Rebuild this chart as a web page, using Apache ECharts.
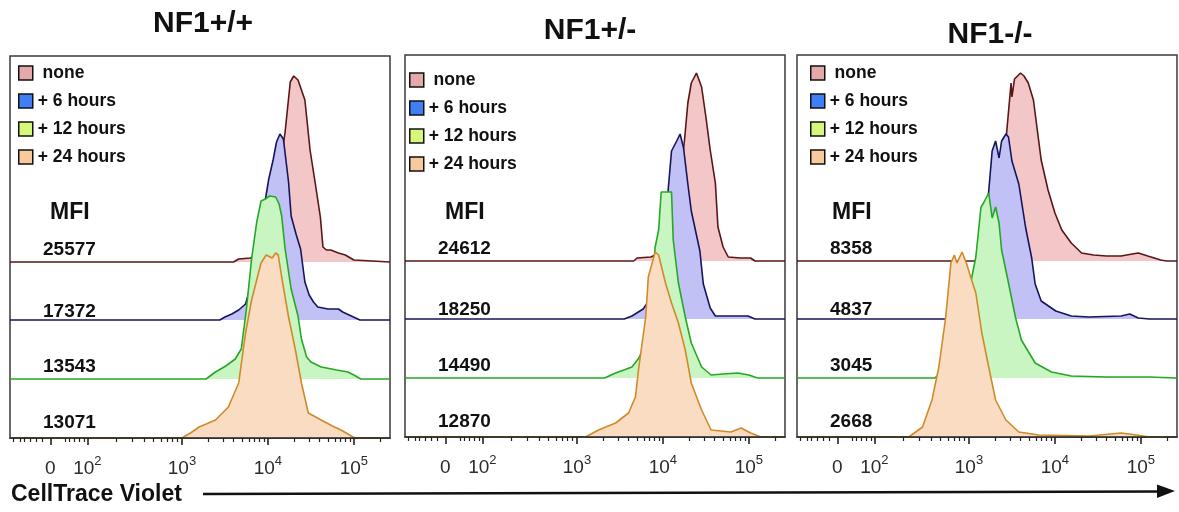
<!DOCTYPE html>
<html><head><meta charset="utf-8">
<script src="https://cdn.jsdelivr.net/npm/echarts@6/dist/echarts.min.js"></script>
<style>html,body{margin:0;padding:0;background:#fff}#c{width:1179px;height:512px}</style>
</head><body><div id="c"></div>
<script>
// ---------- data ----------
const panelTitles = ['NF1+/+', 'NF1+/-', 'NF1-/-'];
const seriesNames = ['none', '+ 6 hours', '+ 12 hours', '+ 24 hours'];
const mfiValues = [
  [25577, 17372, 13543, 13071],
  [24612, 18250, 14490, 12870],
  [8358, 4837, 3045, 2668]
];
const axisTitle = 'CellTrace Violet';
// x axis in display units (biexponential: 10^3 -> 3, 10^4 -> 4, 10^5 -> 5)
const tickValues = [1.47, 1.9, 3, 4, 5];
const tickLabels = ['0', '10^2', '10^3', '10^4', '10^5'];
const minorTickValues = [1.04, 1.12, 1.17, 1.23, 1.30, 1.37, 1.64, 1.69, 1.75, 1.81, 1.86,
  2.231, 2.425, 2.562, 2.669, 2.756, 2.83, 2.893, 2.95,
  3.301, 3.477, 3.602, 3.699, 3.778, 3.845, 3.903, 3.954,
  4.301, 4.477, 4.602, 4.699, 4.778, 4.845, 4.903, 4.954, 5.301];

// histograms: [x (display units), cell count]
const p1None = [[3.60,0],[3.66,3],[3.80,4],[3.90,10],[4.00,30],[4.08,60],[4.14,95],[4.20,130],[4.26,180],[4.30,186],[4.32,187],[4.35,182],[4.43,162],[4.49,112],[4.55,79],[4.61,45],[4.64,15],[4.68,12],[4.73,12],[4.82,9],[4.90,7],[5.00,2],[5.02,0]];
const p1H6 = [[3.44,0],[3.50,3],[3.58,6],[3.66,10],[3.74,16],[3.82,40],[3.90,80],[3.96,115],[4.01,141],[4.06,160],[4.10,178],[4.14,186],[4.18,181],[4.24,138],[4.27,104],[4.33,85],[4.38,71],[4.43,38],[4.48,25],[4.53,18],[4.58,13],[4.70,11],[4.82,11],[4.87,8],[4.97,4],[5.07,0]];
const p1H12 = [[3.28,0],[3.39,7],[3.51,13],[3.62,20],[3.69,30],[3.75,70],[3.81,120],[3.87,157],[3.92,178],[3.97,180],[4.02,183],[4.09,182],[4.13,175],[4.16,163],[4.20,130],[4.27,90],[4.35,63],[4.39,40],[4.45,22],[4.50,17],[4.62,12],[4.80,9],[4.93,7],[5.00,4],[5.08,0]];
const p1H24 = [[3.00,0],[3.10,5],[3.20,11],[3.39,18],[3.54,31],[3.66,55],[3.74,105],[3.81,138],[3.92,175],[3.98,183],[4.05,180],[4.09,185],[4.12,183],[4.16,161],[4.24,121],[4.32,88],[4.39,55],[4.47,25],[4.62,18],[4.75,12],[4.85,8],[5.01,0]];

const p2None = [[3.66,0],[3.70,3],[3.86,4],[3.96,8],[4.04,15],[4.12,35],[4.19,75],[4.25,120],[4.29,158],[4.33,178],[4.39,188],[4.45,174],[4.50,144],[4.55,111],[4.61,78],[4.64,34],[4.70,14],[4.76,4],[4.90,3],[5.02,3],[5.07,0]];
const p2H6 = [[3.55,0],[3.64,3],[3.77,10],[3.85,20],[3.92,45],[3.98,80],[4.06,128],[4.10,168],[4.16,178],[4.20,185],[4.24,171],[4.29,135],[4.33,108],[4.43,68],[4.47,35],[4.55,11],[4.61,3],[4.99,3],[5.07,0]];
const p2H12 = [[3.32,0],[3.45,5],[3.64,11],[3.72,20],[3.80,35],[3.86,80],[3.91,131],[3.95,148],[3.98,186],[4.10,186],[4.12,138],[4.18,95],[4.26,61],[4.33,35],[4.45,11],[4.56,3],[4.70,4],[4.87,5],[5.00,3],[5.10,0]];
const p2H24 = [[3.10,0],[3.25,7],[3.45,14],[3.60,24],[3.68,40],[3.72,70],[3.80,120],[3.83,160],[3.91,185],[3.95,182],[4.03,154],[4.10,134],[4.18,114],[4.26,87],[4.33,54],[4.45,27],[4.56,7],[4.79,5],[4.91,9],[5.02,4],[5.14,0]];

const p3None = [[3.10,0],[3.20,5],[3.30,20],[3.38,70],[3.44,130],[3.49,178],[3.50,164],[3.53,182],[3.60,188],[3.64,185],[3.69,178],[3.75,161],[3.84,101],[3.92,71],[4.00,48],[4.08,31],[4.19,18],[4.31,8],[4.45,6],[4.60,5],[4.77,5],[4.90,7],[4.97,8],[5.08,5],[5.23,1],[5.30,0]];
const p3H6 = [[2.80,0],[2.95,10],[3.05,35],[3.14,75],[3.20,101],[3.23,128],[3.27,168],[3.31,178],[3.35,161],[3.38,178],[3.43,185],[3.46,182],[3.50,158],[3.58,135],[3.66,91],[3.73,61],[3.77,35],[3.84,18],[4.01,8],[4.19,3],[4.39,2],[4.77,3],[4.87,5],[4.97,1],[5.10,0]];
const p3H12 = [[2.60,0],[2.75,8],[2.85,25],[2.95,60],[3.02,95],[3.08,121],[3.14,171],[3.17,175],[3.20,180],[3.23,185],[3.27,160],[3.31,171],[3.35,155],[3.38,128],[3.46,95],[3.54,61],[3.61,38],[3.77,15],[3.96,6],[4.19,2],[4.60,1],[5.10,1],[5.40,0]];
const p3H24 = [[2.30,0],[2.46,10],[2.57,37],[2.65,70],[2.73,120],[2.79,174],[2.83,182],[2.86,174],[2.92,185],[2.97,174],[3.02,160],[3.08,144],[3.15,104],[3.23,70],[3.31,37],[3.43,17],[3.58,5],[3.81,2],[4.40,1],[4.77,4],[4.95,2],[5.10,0]];

const panels = [[p1None, p1H6, p1H12, p1H24], [p2None, p2H6, p2H12, p2H24], [p3None, p3H6, p3H12, p3H24]];

// ---------- layout / style ----------
const X_MIN = 1, X_MAX = 5.42, Y_MAX = 382;
const rowOffsets = [176, 118, 59, 0];
const fills = ['#f3c7c7', '#c1c1f5', '#c9f5c3', '#f9dcc1'];
const lines = ['#5a1616', '#15155e', '#25a825', '#d08a2a'];
const legendColors = ['#e6a9a9', '#3f7ef5', '#d6f77a', '#f9c99e'];
const grids = [
  {left: 10, top: 56, width: 380, height: 382},
  {left: 405, top: 55, width: 380, height: 382},
  {left: 797, top: 55, width: 380, height: 382}
];
const legendPos = [{left: 18, top: 64}, {left: 409, top: 71}, {left: 810, top: 64}];
const titlePos = [[203, 24], [590, 31], [990, 35]];
const mfiPos = [
  {hx: 50, nx: 43, ys: [250, 312, 367, 423]},
  {hx: 445, nx: 438, ys: [249, 310, 366, 422]},
  {hx: 832, nx: 830, ys: [249, 310, 366, 422]}
];
const FONT = "'Liberation Sans', Arial, Helvetica, sans-serif";

function labelFmt(v) {
  let best = 0;
  tickValues.forEach((t, i) => { if (Math.abs(t - v) < Math.abs(tickValues[best] - v)) best = i; });
  const t = tickLabels[best];
  if (t.indexOf('^') < 0) return '{b|' + t + '}';
  const parts = t.split('^');
  return '{b|' + parts[0] + '}{s|' + parts[1] + '}';
}

const xAxes = [], yAxes = [], series = [], legends = [], graphics = [];
grids.forEach((g, p) => {
  xAxes.push({
    type: 'value', gridIndex: p, min: X_MIN, max: X_MAX, position: 'bottom', z: 10,
    axisLine: {show: true, lineStyle: {color: '#222', width: 1.5}},
    axisTick: {show: true, customValues: tickValues, length: 7, lineStyle: {color: '#222', width: 1.6}},
    axisLabel: {
      show: true, customValues: tickValues, margin: 17, formatter: labelFmt,
      rich: {
        b: {fontFamily: FONT, fontSize: 19, lineHeight: 28, color: '#2a2a2a', verticalAlign: 'middle'},
        s: {fontFamily: FONT, fontSize: 13, lineHeight: 11, color: '#2a2a2a', verticalAlign: 'top'}
      }
    },
    splitLine: {show: false}
  });
  xAxes.push({
    type: 'value', gridIndex: p, min: X_MIN, max: X_MAX, position: 'bottom', z: 10,
    axisLine: {show: false},
    axisTick: {show: true, customValues: minorTickValues, length: 4, lineStyle: {color: '#222', width: 1.2}},
    axisLabel: {show: false}, splitLine: {show: false}
  });
  yAxes.push({type: 'value', gridIndex: p, min: 0, max: Y_MAX, show: false, splitLine: {show: false}});

  panels[p].forEach((hist, r) => {
    const pts = [[X_MIN, 0]].concat(hist, [[X_MAX, 0]]);
    series.push({
      type: 'line', name: seriesNames[r], xAxisIndex: p * 2, yAxisIndex: p,
      z: 2 + r,
      data: pts.map(d => [d[0], d[1] + rowOffsets[r]]),
      symbol: 'none', smooth: false, silent: true,
      lineStyle: {color: lines[r], width: 1.6},
      itemStyle: {color: legendColors[r]},
      areaStyle: {color: fills[r], opacity: 1, origin: rowOffsets[r]}
    });
  });

  legends.push({
    left: legendPos[p].left, top: legendPos[p].top, orient: 'vertical', padding: 0,
    itemWidth: 14, itemHeight: 14, itemGap: 10, selectedMode: false, icon: 'rect',
    data: seriesNames.map((n, i) => ({name: n, itemStyle: {color: legendColors[i], borderColor: '#111', borderWidth: 1.5}})),
    formatter: n => (n === 'none' ? ' none' : n),
    textStyle: {fontFamily: FONT, fontWeight: 'bold', fontSize: 17.5, color: '#111', lineHeight: 14}
  });

  graphics.push({type: 'text', x: titlePos[p][0], y: titlePos[p][1],
    style: {text: panelTitles[p], font: 'bold 30px ' + FONT, fill: '#111', textAlign: 'center', textVerticalAlign: 'middle'}});
  graphics.push({type: 'text', x: mfiPos[p].hx, y: 213,
    style: {text: 'MFI', font: 'bold 23px ' + FONT, fill: '#111', textAlign: 'left', textVerticalAlign: 'middle'}});
  mfiValues[p].forEach((v, r) => {
    graphics.push({type: 'text', x: mfiPos[p].nx, y: mfiPos[p].ys[r],
      style: {text: String(v), font: 'bold 19px ' + FONT, fill: '#111', textAlign: 'left', textVerticalAlign: 'middle'}});
  });
});

graphics.push({type: 'text', x: 11, y: 495,
  style: {text: axisTitle, font: 'bold 23px ' + FONT, fill: '#111', textAlign: 'left', textVerticalAlign: 'middle'}});
graphics.push({type: 'line', shape: {x1: 203, y1: 494, x2: 1162, y2: 491.5}, style: {stroke: '#111', lineWidth: 2.5}});
graphics.push({type: 'polygon', shape: {points: [[1157, 484.5], [1175, 491], [1157, 498]]}, style: {fill: '#111'}});

const chart = echarts.init(document.getElementById('c'), null, {renderer: 'canvas'});
chart.setOption({
  animation: false,
  backgroundColor: '#fff',
  grid: grids.map(g => Object.assign({show: true, borderColor: '#3a3a3a', borderWidth: 1.5, backgroundColor: 'transparent', containLabel: false}, g)),
  xAxis: xAxes,
  yAxis: yAxes,
  legend: legends,
  series: series,
  graphic: graphics
});
</script>
</body></html>
